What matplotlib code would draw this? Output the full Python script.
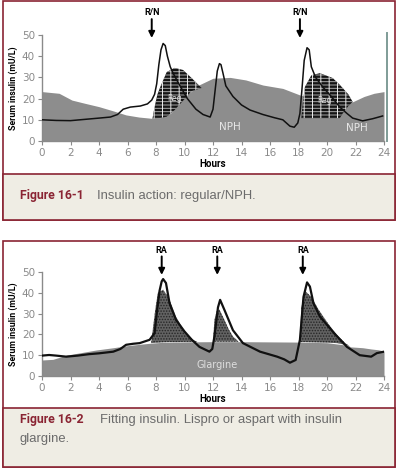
import matplotlib

matplotlib.use("Agg")
import matplotlib.pyplot as plt
from matplotlib.patches import Rectangle

# ---- data (hours, mU/L) ----
line1_x = [0, 1, 2, 3, 4, 4.8, 5.3, 5.7, 6.2, 6.9, 7.4, 7.7, 7.9, 8.05, 8.2, 8.35,
           8.5, 8.65, 8.8, 9.0, 9.2, 9.6, 10.2, 10.8, 11.3, 11.8, 12.0, 12.15, 12.3,
           12.45, 12.56, 12.7, 12.9, 13.4, 14.0, 14.6, 15.5, 16.3, 16.9, 17.4, 17.7,
           17.95, 18.1, 18.25, 18.4, 18.6, 18.75, 18.9, 19.2, 19.7, 20.3, 20.9, 21.4,
           21.8, 22.5, 23.2, 23.9]
line1_y = [10, 9.7, 9.6, 10.2, 10.8, 11.3, 12.5, 15, 16, 16.5, 17.5, 19.3, 22, 27,
           36, 43, 46, 45, 40, 35, 32, 27, 20, 15, 12.5, 11.3, 15, 24, 33, 36.5, 36,
           32, 26, 21, 17, 14.6, 12.5, 11, 10, 7, 6.5, 8.5, 13, 25, 38, 44, 43, 35,
           30, 25.5, 21, 16, 13, 10.8, 9.5, 10.5, 11.8]

nph_x = [0, 1.2, 2.1, 3, 4, 5, 5.9, 6.8, 7.7, 8.3, 9, 9.5, 10, 10.3, 11, 12, 13.2,
         14.3, 15.5, 16.9, 18.1, 19, 20, 21, 21.8, 22.6, 23.3, 24]
nph_y = [23.3, 22.5, 19.3, 17.8, 16.2, 14.2, 12.3, 11.3, 10.7, 11, 13, 16.5, 21,
         22.5, 26.4, 29.6, 30, 28.8, 26.4, 24.8, 21.7, 20, 19, 18.5, 18.5, 21, 22.5,
         23.3]

reg1_x = [7.75, 7.9, 8.1, 8.3, 8.75, 9.3, 9.9, 10.5, 11.2]
reg1_top = [10.5, 16, 22, 25.5, 32.5, 34.5, 33.5, 29.7, 25]
reg1_low = [10.5, 10.6, 10.7, 10.8, 11.5, 14.5, 19, 23.5, 25]

reg2_x = [18.2, 18.3, 18.45, 18.9, 19.5, 20.4, 20.9, 21.1, 21.5, 21.8]
reg2_top = [10.8, 18, 25.5, 31, 32, 29.7, 26.5, 25, 22, 18.5]
reg2_low = [10.8, 10.8, 10.8, 10.8, 10.8, 10.8, 10.8, 13, 16.5, 18.5]

line2_x = [0, 0.5, 1.0, 1.7, 2.5, 3.3, 4.0, 5.0, 5.5, 5.9, 6.4, 6.85, 7.55, 7.9, 8.1,
           8.25, 8.4, 8.5, 8.7, 8.95, 9.4, 10.0, 10.5, 11.05, 11.75, 11.95, 12.1,
           12.35, 12.5, 12.8, 13.4, 14.1, 15.3, 16.5, 17.0, 17.4, 17.8, 18.1, 18.35,
           18.6, 18.8, 19.05, 19.5, 20.5, 21.4, 22.3, 23.1, 23.5, 24]
line2_y = [9.8, 10.1, 9.8, 9.3, 9.8, 10.5, 10.9, 11.7, 13, 15, 15.5, 15.8, 17.4, 20.6,
           33, 41, 45.5, 46.6, 44.7, 35, 27, 21.4, 17.5, 14, 11.7, 13, 19, 33, 36.6,
           31.8, 22, 15.8, 11.7, 9.3, 8, 6.4, 7.7, 17.4, 38, 45, 43, 35, 28.6, 20.6,
           14, 10, 9.3, 11, 11.7]

glargine_x = [0, 0.77, 1.7, 2.8, 3.8, 4.9, 5.9, 6.8, 7.66, 8.5, 10, 12, 14, 16, 18.1,
              20, 21.4, 21.65, 22.5, 23.1, 23.6, 24]
glargine_y = [7.7, 8, 10, 11.3, 12.5, 13.5, 14.5, 15.2, 15.8, 16.2, 16.4, 16.5, 16.5,
              16.4, 16.3, 16, 14.8, 14, 13.6, 13, 12.6, 12]

ra1_x = [7.66, 7.8, 7.95, 8.13, 8.5, 8.9, 9.4, 10, 10.6, 10.9]
ra1_top = [15.8, 23.8, 32, 40, 41.5, 37.5, 28.6, 21.4, 17.4, 16.4]
ra1_low = [15.8, 15.9, 16, 16, 16.2, 16.3, 16.3, 16.4, 16.4, 16.4]

ra2_x = [12.0, 12.1, 12.25, 12.45, 12.8, 13.1, 13.4, 13.8]
ra2_top = [16.5, 27, 31, 32, 27, 22.5, 19, 16.5]
ra2_low = [16.5, 16.5, 16.5, 16.5, 16.5, 16.5, 16.5, 16.5]

ra3_x = [18.1, 18.2, 18.45, 18.9, 19.4, 20.1, 20.7, 21.3, 21.65]
ra3_top = [17, 33, 41, 38, 32, 25, 19.7, 15.7, 14]
ra3_low = [16.3, 16.3, 16.3, 16.2, 16.1, 16, 15.8, 15, 14]

rn_doses = [7.7, 18.1]
ra_doses = [8.4, 12.3, 18.3]

x_ticks = list(range(0, 25, 2))
y_ticks = [0, 10, 20, 30, 40, 50]

MAROON = "#8a2433"
CAPTION_BG = "#efede4"
FILL_GRAY = "#8d8d8d"
NARROW = ["Roboto", "DejaVu Sans"]
PLAIN = ["Liberation Sans", "DejaVu Sans"]

W, H = 400, 470
plt.rcParams["hatch.linewidth"] = 0.7


def fig_rect(x0, y0, x1, y1):
    """Convert pixel box (top-left origin) to figure fractions"""
    return x0 / W, 1 - y1 / H, (x1 - x0) / W, (y1 - y0) / H


def draw_frame(fig, top, split, bottom):
    """Maroon outlined box with a beige caption strip"""
    x, y, w, h = fig_rect(3, top, 395, bottom)
    fig.add_artist(Rectangle((x, y), w, h, transform=fig.transFigure,
                             facecolor="white", edgecolor=MAROON, lw=1.2, zorder=0))
    x, y, w, h = fig_rect(3, split, 395, bottom)
    fig.add_artist(Rectangle((x, y), w, h, transform=fig.transFigure,
                             facecolor=CAPTION_BG, edgecolor=MAROON, lw=1.2, zorder=0))


def caption(fig, py, label, text, text_x, extra=None):
    """Figure number in bold maroon followed by gray description"""
    fig.text(20 / W, 1 - py / H, label, color=MAROON, fontsize=8.8,
             fontweight="bold", family=NARROW, va="center")
    fig.text(text_x / W, 1 - py / H, text, color="#6b6b6b", fontsize=9.4,
             family=PLAIN, va="center")
    if extra:
        fig.text(20 / W, 1 - (py + 19) / H, extra, color="#6b6b6b", fontsize=9.4,
                 family=PLAIN, va="center")


def style_axes(ax):
    """Common axis styling for both panels"""
    ax.set_xlim(0, 24)
    ax.set_ylim(0, 50)
    ax.set_xticks(x_ticks)
    ax.set_yticks(y_ticks)
    for side in ("top", "right"):
        ax.spines[side].set_visible(False)
    for side in ("left", "bottom"):
        ax.spines[side].set_color("#8a8a8a")
        ax.spines[side].set_linewidth(1.0)
    ax.tick_params(direction="out", length=3, width=0.8, color="#8a8a8a",
                   labelcolor="#8a8a8a", labelsize=7.5, pad=2)
    ax.set_xlabel("Hours", fontsize=7, fontweight="bold", family=NARROW, labelpad=1)
    ax.set_ylabel("Serum insulin (mU/L)", fontsize=6.3, fontweight="bold",
                  family=NARROW, labelpad=3)


def dose_arrow(ax, x, label):
    """Black injection arrow above the plot"""
    ax.annotate("", xy=(x, 48.6), xytext=(x, 57.5), annotation_clip=False,
                arrowprops=dict(arrowstyle="-|>", color="black", lw=1.4,
                                mutation_scale=9, shrinkA=0, shrinkB=0))
    ax.text(x, 60.5, label, ha="center", va="center", fontsize=6.5,
            fontweight="bold", family=NARROW, clip_on=False)


fig = plt.figure(figsize=(4, 4.7), dpi=100)
draw_frame(fig, 1, 174, 220)
draw_frame(fig, 241, 408, 467)

# ---- Figure 16-1: regular / NPH ----
ax1 = fig.add_axes(fig_rect(42, 35, 384, 141))
ax1.patch.set_alpha(0)
ax1.fill_between(nph_x, 0, nph_y, color=FILL_GRAY, lw=0, zorder=1)
for xs, lo, hi in ((reg1_x, reg1_low, reg1_top), (reg2_x, reg2_low, reg2_top)):
    # dark checks: fine light rows, then wider white columns on top
    ax1.fill_between(xs, lo, hi, facecolor="#141414", edgecolor="#a8a8a8",
                     hatch="-----", lw=0, zorder=2)
    ax1.fill_between(xs, lo, hi, facecolor="none", edgecolor="#eeeeee",
                     hatch="||", lw=0, zorder=2)
ax1.plot(line1_x, line1_y, color="#111111", lw=1.1, zorder=3)
ax1.text(9.3, 20, "Reg", color="#dddddd", fontsize=5.5, ha="center",
         va="center", zorder=4)
ax1.text(19.8, 19, "Reg", color="#dddddd", fontsize=5.5, ha="center",
         va="center", zorder=4)
ax1.text(13.2, 6.5, "NPH", color="#e6e6e6", fontsize=7.5, ha="center",
         va="center", zorder=4)
ax1.text(22.1, 6, "NPH", color="#e6e6e6", fontsize=7.5, ha="center",
         va="center", zorder=4)
style_axes(ax1)
ax1.spines["right"].set_visible(True)
ax1.spines["right"].set_position(("data", 24.2))
ax1.spines["right"].set_bounds(0, 51)
ax1.spines["right"].set_color("#7f9c97")
ax1.spines["right"].set_linewidth(1.4)
for d in rn_doses:
    dose_arrow(ax1, d, "R/N")
caption(fig, 196, "Figure 16-1", "Insulin action: regular/NPH.", 97)

# ---- Figure 16-2: rapid acting with glargine ----
ax2 = fig.add_axes(fig_rect(42, 272, 384, 376))
ax2.patch.set_alpha(0)
ax2.fill_between(glargine_x, 0, glargine_y, color=FILL_GRAY, lw=0, zorder=1)
for xs, lo, hi in ((ra1_x, ra1_low, ra1_top), (ra2_x, ra2_low, ra2_top),
                   (ra3_x, ra3_low, ra3_top)):
    ax2.fill_between(xs, lo, hi, facecolor="#626262", edgecolor="#262626",
                     hatch="......", lw=0, zorder=2)
ax2.plot(line2_x, line2_y, color="#111111", lw=1.6, zorder=3)
ax2.text(12.3, 5.3, "Glargine", color="#dedede", fontsize=7, ha="center",
         va="center", zorder=4)
style_axes(ax2)
for d in ra_doses:
    dose_arrow(ax2, d, "RA")
caption(fig, 420, "Figure 16-2", "Fitting insulin. Lispro or aspart with insulin",
        100, "glargine.")

fig.savefig("out.png", dpi=100)
